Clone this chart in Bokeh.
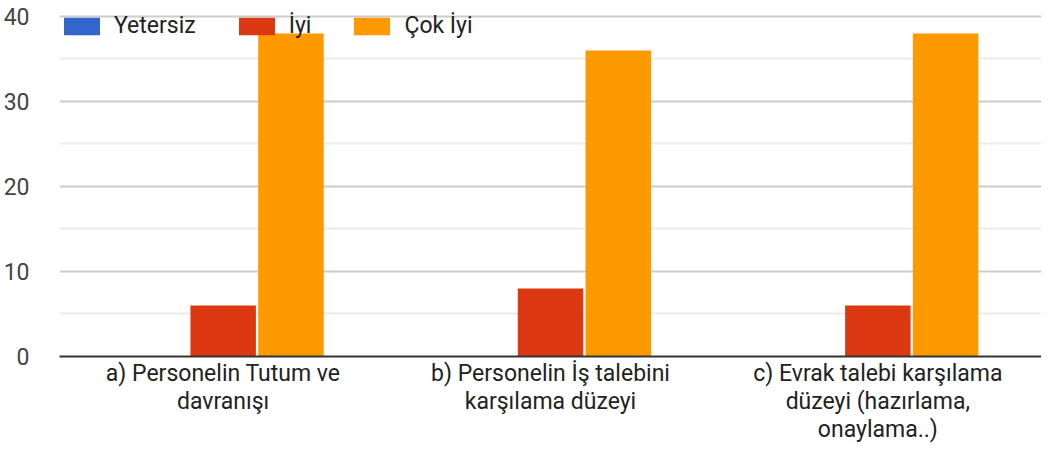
from bokeh.plotting import figure
from bokeh.models import ColumnDataSource, FactorRange, Range1d, FixedTicker, Legend, LegendItem
from bokeh.transform import dodge
from bokeh.embed import file_html
from bokeh.resources import INLINE

categories = [
    "a) Personelin Tutum ve\ndavranışı",
    "b) Personelin İş talebini\nkarşılama düzeyi",
    "c) Evrak talebi karşılama\ndüzeyi (hazırlama,\nonaylama..)",
]
series_names = ["Yetersiz", "İyi", "Çok İyi"]
yetersiz = [0, 0, 0]
iyi = [6, 8, 6]
cok_iyi = [38, 36, 38]
y_ticks = [0, 10, 20, 30, 40]
y_minor_ticks = [5, 15, 25, 35]
colors = ["#3366cc", "#dc3912", "#ff9900"]

FONT = "Roboto"
FS = "23px"

source = ColumnDataSource(dict(cat=categories, yetersiz=yetersiz, iyi=iyi, cok=cok_iyi))

p = figure(
    width=1041, height=446,
    x_range=FactorRange(factors=categories, range_padding=0),
    y_range=Range1d(0, 40.47),
    output_backend="svg", toolbar_location=None,
    min_border_left=56, min_border_right=0, min_border_top=12, min_border_bottom=60,
)
p.outline_line_color = None

w = 0.2
step = 0.207
r1 = p.vbar(x=dodge("cat", -step, range=p.x_range), top="yetersiz", width=w, source=source,
            fill_color=colors[0], line_color=None)
r2 = p.vbar(x=dodge("cat", 0, range=p.x_range), top="iyi", width=w, source=source,
            fill_color=colors[1], line_color=None)
r3 = p.vbar(x=dodge("cat", step, range=p.x_range), top="cok", width=w, source=source,
            fill_color=colors[2], line_color=None)

legend = Legend(
    items=[LegendItem(label=series_names[0], renderers=[r1]),
           LegendItem(label=series_names[1], renderers=[r2]),
           LegendItem(label=series_names[2], renderers=[r3])],
    orientation="horizontal", location="top_left",
    glyph_width=45, glyph_height=22, label_standoff=10, spacing=38,
    margin=0, padding=0,
    background_fill_alpha=0, border_line_color=None,
    label_text_font=FONT, label_text_font_size=FS, label_text_color="#222222",
)
p.add_layout(legend)

p.yaxis.ticker = FixedTicker(ticks=y_ticks, minor_ticks=y_minor_ticks)
p.yaxis.axis_line_color = None
p.yaxis.major_tick_line_color = None
p.yaxis.minor_tick_line_color = None
p.yaxis.major_tick_out = 0
p.yaxis.major_label_standoff = 26
p.yaxis.major_label_text_font = FONT
p.yaxis.major_label_text_font_size = FS
p.yaxis.major_label_text_color = "#444444"

p.xaxis.axis_line_color = "#333333"
p.xaxis.axis_line_width = 2
p.xaxis.major_tick_line_color = None
p.xaxis.minor_tick_line_color = None
p.xaxis.major_tick_out = 0
p.xaxis.major_label_standoff = 3
p.xaxis.major_label_text_font = FONT
p.xaxis.major_label_text_font_size = FS
p.xaxis.major_label_text_color = "#222222"
p.xaxis.major_label_text_line_height = 1.05

p.xgrid.grid_line_color = None
p.ygrid.grid_line_color = "#cccccc"
p.ygrid.grid_line_width = 2
p.ygrid.minor_grid_line_color = "#ebebeb"
p.ygrid.minor_grid_line_width = 2

open("out.html", "w").write(file_html(p, INLINE))
